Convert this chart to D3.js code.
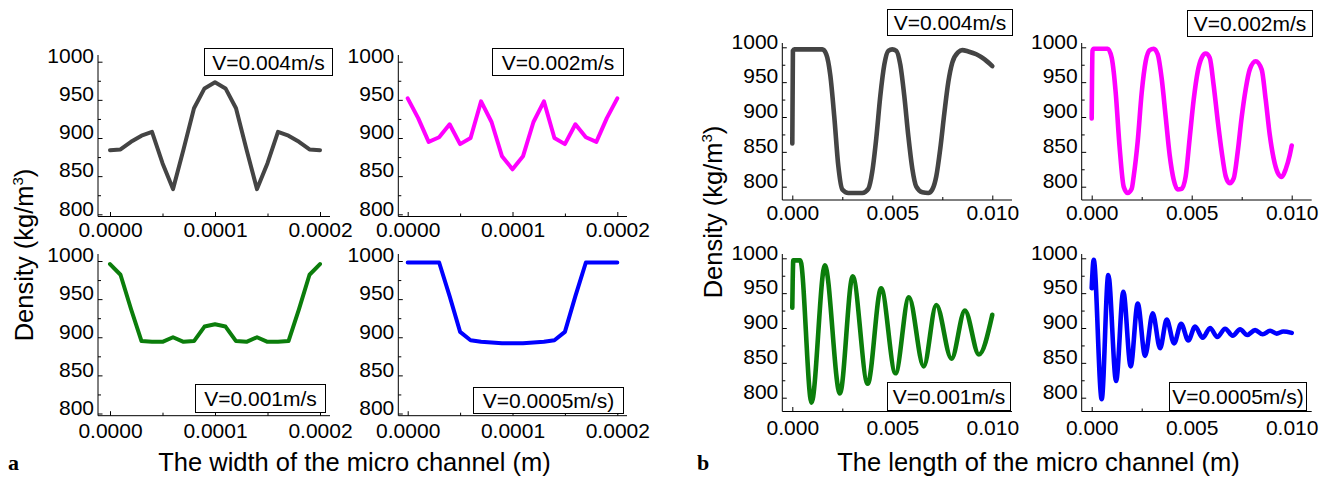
<!DOCTYPE html>
<html>
<head>
<meta charset="utf-8">
<script src="https://cdn.jsdelivr.net/npm/d3@7/dist/d3.min.js"></script>
<style>
  body { margin: 0; background: #fff; }
  svg text { font-family: "Liberation Sans", Arial, sans-serif; fill: #000; }
</style>
</head>
<body>
<svg id="chart" width="1337" height="479"></svg>
<script>
// ---------- data ----------
// panel a: density across the channel width (21 points, 0..0.0002 m)
const widthX = [0, 0.00001, 0.00002, 0.00003, 0.00004, 0.00005, 0.00006, 0.00007, 0.00008, 0.00009, 0.0001,
                0.00011, 0.00012, 0.00013, 0.00014, 0.00015, 0.00016, 0.00017, 0.00018, 0.00019, 0.0002];
const densW004  = [884, 885, 895, 903, 908, 867, 833, 885, 939, 965, 973, 965, 939, 885, 833, 867, 908, 903, 895, 885, 884];
const densW002  = [952, 926, 895, 901, 918, 892, 900, 948, 921, 876, 859, 876, 921, 948, 900, 892, 918, 901, 895, 926, 952];
const densW001  = [996, 982, 937, 895, 894, 894, 900, 894, 895, 914, 917, 914, 895, 894, 900, 894, 894, 895, 937, 982, 996];
const densW0005 = [998, 998, 998, 998, 954, 907, 896, 894, 893, 892, 892, 892, 893, 894, 896, 907, 954, 998, 998, 998, 998];

// panel b: density along the channel length, [x (m), density]
const densL004 = [[0, 862], [0.00003, 995], [0.0001, 997], [0.0015, 997], [0.0017, 990], [0.0019, 960], [0.0021, 900],
  [0.0023, 830], [0.0025, 796], [0.0028, 791], [0.0035, 791], [0.0038, 797], [0.004, 822], [0.0042, 870], [0.0044, 930],
  [0.0046, 975], [0.0048, 995], [0.005, 997], [0.0052, 995], [0.0054, 975], [0.0056, 930], [0.0058, 873], [0.006, 826],
  [0.0062, 800], [0.0065, 792], [0.0068, 791], [0.007, 796], [0.0072, 815], [0.0074, 855], [0.0076, 905], [0.0078, 950],
  [0.008, 978], [0.0083, 993], [0.0085, 996], [0.0088, 994], [0.0092, 990], [0.0096, 983], [0.01, 973]];
const densL002 = [[0, 898], [0.00004, 995], [0.0001, 998], [0.0008, 998], [0.001, 985], [0.0011, 965], [0.0012, 935],
  [0.0014, 855], [0.0016, 800], [0.0018, 791], [0.002, 797], [0.0021, 815], [0.0023, 865], [0.0025, 935], [0.0027, 980],
  [0.0029, 996], [0.0031, 998], [0.0033, 990], [0.0035, 955], [0.0037, 900], [0.0039, 845], [0.0041, 810], [0.0043, 796],
  [0.0045, 797], [0.0047, 815], [0.0049, 870], [0.0051, 925], [0.0053, 965], [0.0055, 985], [0.0057, 991], [0.0059, 985],
  [0.0061, 945], [0.0063, 895], [0.0065, 850], [0.0067, 815], [0.0069, 805], [0.0071, 812], [0.0073, 850], [0.0075, 900],
  [0.0077, 940], [0.0079, 968], [0.0082, 980], [0.0085, 968], [0.0087, 925], [0.0089, 875], [0.0091, 840], [0.0093, 820],
  [0.0095, 814], [0.0097, 825], [0.0099, 845], [0.01, 859]];
const densL001 = [[0, 929], [0.00005, 997], [0.0004, 997], [0.00096, 793], [0.00163, 990], [0.00238, 806], [0.00302, 974],
  [0.00377, 820], [0.00444, 957], [0.00516, 835], [0.00583, 944], [0.00657, 845], [0.0072, 933], [0.00796, 856],
  [0.00863, 925], [0.00933, 862], [0.01, 919]];
const densL0005 = [[0, 957], [0.0001, 998], [0.0005, 798], [0.00083, 976], [0.00122, 824], [0.00158, 952], [0.00195, 845],
  [0.0023, 935], [0.00267, 860], [0.00305, 921], [0.00342, 871], [0.00375, 912], [0.00412, 878], [0.00447, 906],
  [0.00483, 882], [0.00517, 902], [0.00555, 886], [0.00592, 900], [0.00628, 887], [0.00667, 899], [0.00705, 889],
  [0.00742, 898], [0.00778, 890], [0.00817, 897], [0.00855, 891], [0.00892, 896], [0.00925, 892], [0.00958, 895], [0.01, 893]];

// ticks and labels
const yTicks = [800, 850, 900, 950, 1000];
const yMinor = [775, 825, 875, 925, 975];
const widthTicks = [0, 0.0001, 0.0002];
const widthMinor = [0.00005, 0.00015];
const lengthTicks = [0, 0.005, 0.01];
const lengthMinor = [0.0025, 0.0075];
const speeds = ["V=0.004m/s", "V=0.002m/s", "V=0.001m/s", "V=0.0005m/s)"];
const lineColors = ["#444444", "#ff00ff", "#0b7d0b", "#0000ff"];

// ---------- layout ----------
const svg = d3.select('#chart');

const subplots = [
  // panel a
  {pts: widthX.map((x,i)=>[x, densW004[i]]),  col: 0, txt: 0, x0: 110, x1: 320, axL: 98, axR: 330, y1000: 61.7, y800: 214.3, axB: 216.5, axT: 55, box: [204, 48, 128, 27], kind: 'w', lab: 237},
  {pts: widthX.map((x,i)=>[x, densW002[i]]),  col: 1, txt: 1, x0: 407.7, x1: 617.3, axL: 398.3, axR: 627, y1000: 61.7, y800: 214.3, axB: 216.5, axT: 55, box: [492, 48, 131, 27], kind: 'w', lab: 237},
  {pts: widthX.map((x,i)=>[x, densW001[i]]),  col: 2, txt: 2, x0: 110, x1: 320, axL: 98, axR: 330, y1000: 261, y800: 413.5, axB: 415.7, axT: 254, box: [195, 384, 130, 28], kind: 'w', lab: 438},
  {pts: widthX.map((x,i)=>[x, densW0005[i]]), col: 3, txt: 3, x0: 407.7, x1: 617.3, axL: 398.3, axR: 627, y1000: 261, y800: 413.5, axB: 415.7, axT: 254, box: [473, 387, 150, 26], kind: 'w', lab: 438},
  // panel b
  {pts: densL004,  col: 0, txt: 0, x0: 792.3, x1: 992.3, axL: 782.3, axR: 1012, y1000: 47.3, y800: 186.7, axB: 200, axT: 43, box: [887, 9, 125, 26], kind: 'l', lab: 220},
  {pts: densL002,  col: 1, txt: 1, x0: 1091.7, x1: 1291.7, axL: 1081.7, axR: 1311.7, y1000: 47.3, y800: 186.7, axB: 200, axT: 43, box: [1187, 10, 125, 26], kind: 'l', lab: 220},
  {pts: densL001,  col: 2, txt: 2, x0: 792.3, x1: 992.3, axL: 782.3, axR: 1012, y1000: 258.3, y800: 397.7, axB: 411.5, axT: 254, box: [887, 382, 123, 28], kind: 'l', lab: 435},
  {pts: densL0005, col: 3, txt: 3, x0: 1091.7, x1: 1291.7, axL: 1081.7, axR: 1311.7, y1000: 258.3, y800: 397.7, axB: 411.5, axT: 254, box: [1169, 382, 137, 28], kind: 'l', lab: 435}
];

subplots.forEach(drawSub);

function drawSub(p){
  const g = svg.append('g');
  const wide = p.kind === 'w';
  const x = d3.scaleLinear().domain([0, wide ? 0.0002 : 0.01]).range([p.x0, p.x1]);
  const y = d3.scaleLinear().domain([800, 1000]).range([p.y800, p.y1000]);

  // axis lines run past the tick range, so draw them by hand
  g.append('line').attr('x1', p.axL).attr('x2', p.axR).attr('y1', p.axB).attr('y2', p.axB).attr('stroke', '#000');
  g.append('line').attr('x1', p.axL).attr('x2', p.axL).attr('y1', p.axB).attr('y2', p.axT).attr('stroke', '#000');

  // x ticks (inward) + labels
  g.append('g').attr('transform', `translate(0,${p.axB})`)
    .call(d3.axisBottom(x).tickValues(wide ? widthTicks : lengthTicks)
      .tickFormat(d3.format(wide ? '.4f' : '.3f')).tickSizeInner(-4.5).tickSizeOuter(0).tickPadding(p.lab - p.axB - 15));
  g.append('g').attr('transform', `translate(0,${p.axB})`)
    .call(d3.axisBottom(x).tickValues(wide ? widthMinor : lengthMinor).tickFormat('').tickSizeInner(-3).tickSizeOuter(0));

  // y ticks (inward) + labels
  const ya = g.append('g').attr('transform', `translate(${p.axL},0)`)
    .call(d3.axisLeft(y).tickValues(yTicks).tickFormat(d3.format('d')).tickSizeInner(-4.5).tickSizeOuter(0).tickPadding(4));
  g.append('g').attr('transform', `translate(${p.axL},0)`)
    .call(d3.axisLeft(y).tickValues(yMinor.filter(v => y(v) <= p.axB)).tickFormat('').tickSizeInner(-3).tickSizeOuter(0));

  g.selectAll('.domain').remove();
  g.selectAll('.tick line').attr('stroke', '#000');
  g.selectAll('.tick text').attr('font-size', 21).attr('font-family', '"Liberation Sans", Arial, sans-serif').attr('fill', '#000');
  ya.selectAll('text').attr('dy', '0.04em');

  const line = d3.line().x(d => x(d[0])).y(d => y(d[1]))
    .curve(wide ? d3.curveLinear : d3.curveMonotoneX);
  g.append('path').datum(p.pts).attr('d', line)
    .attr('fill', 'none').attr('stroke', lineColors[p.col])
    .attr('stroke-width', wide ? 4 : 4.6).attr('stroke-linejoin', 'round').attr('stroke-linecap', 'round');

  // speed label box
  const [bx, by, bw, bh] = p.box;
  g.append('rect').attr('x', bx + 0.5).attr('y', by + 0.5).attr('width', bw).attr('height', bh)
    .attr('fill', '#fff').attr('stroke', '#000').attr('stroke-width', 1);
  g.append('text').attr('x', bx + bw/2 + 0.5).attr('y', by + bh/2 + 8)
    .attr('text-anchor', 'middle').attr('font-size', 21).text(speeds[p.txt]);
}

// ---------- axis titles & panel letters ----------
function yTitle(xb, yc){
  const t = svg.append('text').attr('transform', `translate(${xb},${yc}) rotate(-90)`)
    .attr('text-anchor', 'middle').attr('font-size', 25.5);
  t.append('tspan').text('Density (kg/m');
  t.append('tspan').attr('font-size', 15).attr('dy', -10).text('3');
  t.append('tspan').attr('dy', 10).text(')');
}
yTitle(33, 255);
yTitle(722, 212);

svg.append('text').attr('x', 354.5).attr('y', 471).attr('text-anchor', 'middle').attr('font-size', 25.5)
  .text('The width of the micro channel (m)');
svg.append('text').attr('x', 1038.5).attr('y', 471).attr('text-anchor', 'middle').attr('font-size', 25.5)
  .text('The length of the micro channel (m)');

svg.append('text').attr('x', 8).attr('y', 470).attr('font-size', 22).attr('font-weight', 'bold')
  .style('font-family', '"Liberation Serif", "Times New Roman", serif').text('a');
svg.append('text').attr('x', 697).attr('y', 470).attr('font-size', 22).attr('font-weight', 'bold')
  .style('font-family', '"Liberation Serif", "Times New Roman", serif').text('b');
</script>
</body>
</html>
